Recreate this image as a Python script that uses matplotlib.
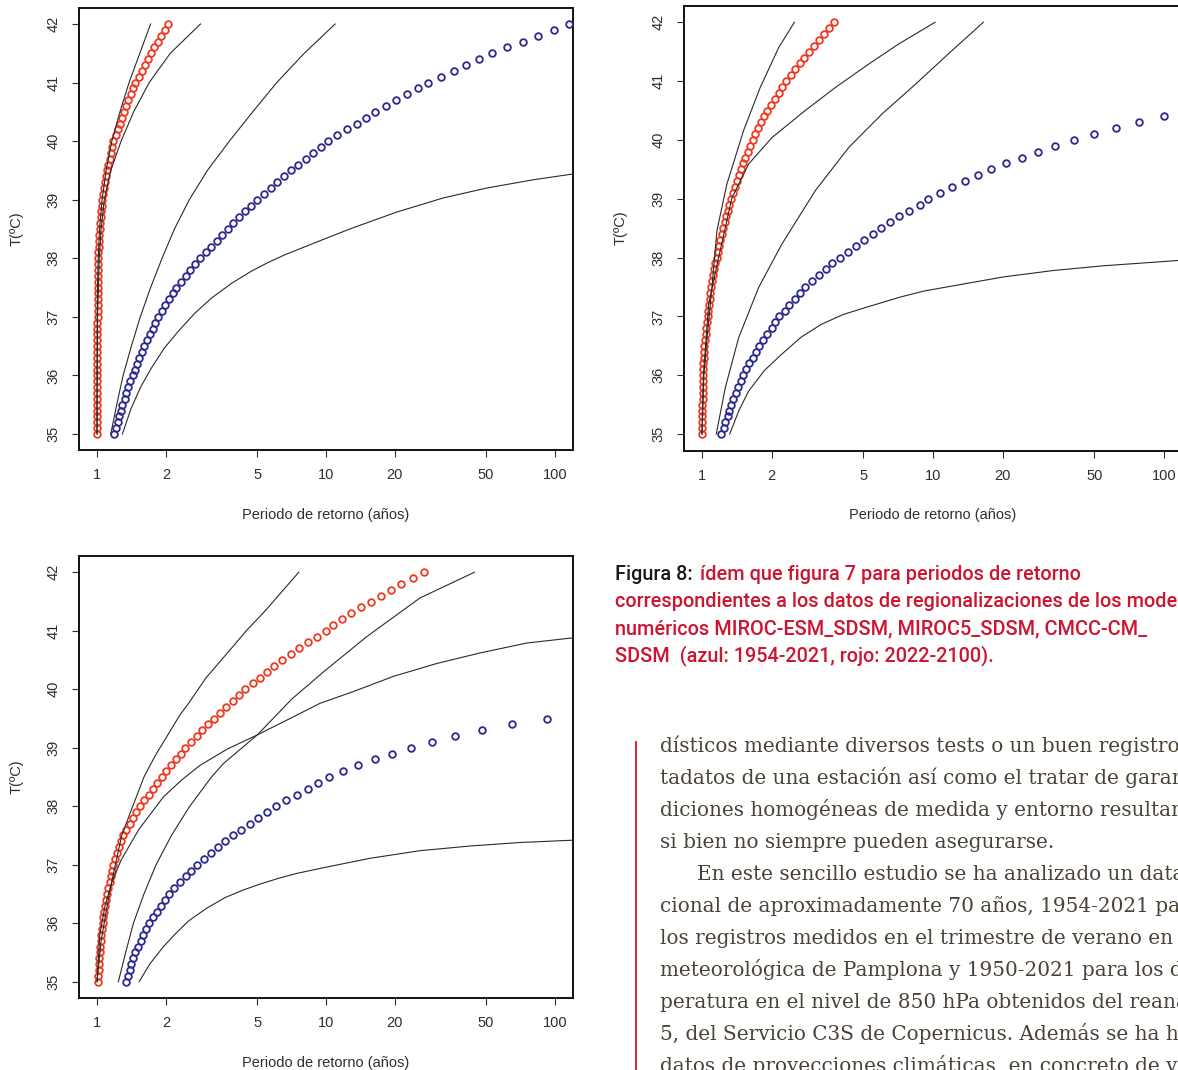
import matplotlib
matplotlib.use("Agg")
import matplotlib.pyplot as plt
from matplotlib.lines import Line2D
from matplotlib.ticker import FixedLocator, NullLocator

plt.rcParams["font.family"] = ["Liberation Sans", "DejaVu Sans"]

# temperature levels (ºC) shared by every point series
temps = [35.0, 35.1, 35.2, 35.3, 35.4, 35.5, 35.6, 35.7, 35.8, 35.9,
         36.0, 36.1, 36.2, 36.3, 36.4, 36.5, 36.6, 36.7, 36.8, 36.9,
         37.0, 37.1, 37.2, 37.3, 37.4, 37.5, 37.6, 37.7, 37.8, 37.9,
         38.0, 38.1, 38.2, 38.3, 38.4, 38.5, 38.6, 38.7, 38.8, 38.9,
         39.0, 39.1, 39.2, 39.3, 39.4, 39.5, 39.6, 39.7, 39.8, 39.9,
         40.0, 40.1, 40.2, 40.3, 40.4, 40.5, 40.6, 40.7, 40.8, 40.9,
         41.0, 41.1, 41.2, 41.3, 41.4, 41.5, 41.6, 41.7, 41.8, 41.9,
         42.0]

period_ticks = [1, 2, 5, 10, 20, 50, 100]
period_labels = ["1", "2", "5", "10", "20", "50", "100"]
temp_ticks = [35, 36, 37, 38, 39, 40, 41, 42]

# ---- panel 1 (top left): return periods in years ----
p1_blue = [1.19, 1.21, 1.23, 1.25, 1.27, 1.29, 1.32, 1.34, 1.37, 1.40,
           1.43, 1.46, 1.50, 1.53, 1.57, 1.60, 1.65, 1.70, 1.75, 1.80,
           1.85, 1.92, 1.99, 2.07, 2.14, 2.22, 2.33, 2.44, 2.56, 2.69,
           2.82, 2.98, 3.15, 3.33, 3.52, 3.72, 3.94, 4.19, 4.45, 4.72,
           5.01, 5.36, 5.73, 6.12, 6.55, 7.00, 7.55, 8.15, 8.79, 9.48,
           10.2, 11.2, 12.4, 13.6, 14.9, 16.4, 18.2, 20.3, 22.5, 25.1,
           27.9, 31.7, 36.1, 41.0, 46.7, 53.1, 61.9, 72.4, 84.5, 98.8,
           115]
p1_red = [1.000, 1.000, 1.000, 1.000, 1.000, 1.000, 1.000, 1.000, 1.000, 1.000,
          1.001, 1.001, 1.002, 1.002, 1.003, 1.003, 1.003, 1.004, 1.004, 1.004,
          1.005, 1.005, 1.006, 1.006, 1.006, 1.007, 1.008, 1.009, 1.010, 1.011,
          1.012, 1.014, 1.017, 1.020, 1.023, 1.026, 1.031, 1.036, 1.041, 1.047,
          1.052, 1.062, 1.073, 1.083, 1.093, 1.104, 1.119, 1.134, 1.149, 1.165,
          1.180, 1.205, 1.230, 1.256, 1.282, 1.309, 1.340, 1.372, 1.405, 1.438,
          1.472, 1.518, 1.566, 1.615, 1.666, 1.718, 1.780, 1.845, 1.910, 1.979,
          2.051]
p1_red_a_t = [35.0, 36.0, 37.0, 37.5, 38.0, 38.5, 39.0, 39.5, 40.0, 40.5, 41.0, 41.5, 42.0]
p1_red_a_x = [1.0, 1.0, 1.002, 1.005, 1.012, 1.026, 1.052, 1.096, 1.161, 1.259, 1.380, 1.538, 1.714]
p1_red_b_t = [35.0, 37.0, 38.0, 38.5, 39.0, 39.5, 40.0, 40.5, 41.0, 41.5, 42.0]
p1_red_b_x = [1.0, 1.005, 1.023, 1.042, 1.076, 1.148, 1.274, 1.445, 1.690, 2.089, 2.831]
p1_blue_a_t = [35.0, 35.5, 36.0, 36.5, 37.0, 37.5, 38.0, 38.5, 39.0, 39.5, 40.0, 40.5, 41.0, 41.5, 42.0]
p1_blue_a_x = [1.148, 1.219, 1.300, 1.413, 1.545, 1.714, 1.923, 2.178, 2.529, 3.034, 3.784, 4.786, 6.095, 8.035, 10.96]
p1_blue_b_t = [35.0, 35.44, 35.8, 36.13, 36.47, 36.75, 37.06, 37.32, 37.57, 37.78, 37.93, 38.06,
               38.30, 38.50, 38.79, 39.03, 39.2, 39.34, 39.44, 39.5]
p1_blue_b_x = [1.29, 1.41, 1.55, 1.73, 1.97, 2.26, 2.67, 3.16, 3.86, 4.72, 5.60, 6.61,
               9.42, 12.7, 20.4, 32.5, 50.4, 80.4, 120, 150]

# ---- panel 2 (top right) ----
p2_blue = [1.21, 1.24, 1.26, 1.29, 1.31, 1.33, 1.36, 1.40, 1.43, 1.47,
           1.50, 1.55, 1.60, 1.66, 1.71, 1.77, 1.84, 1.92, 2.00, 2.08,
           2.16, 2.28, 2.39, 2.52, 2.65, 2.79, 2.99, 3.20, 3.43, 3.67,
           3.94, 4.28, 4.65, 5.05, 5.48, 5.96, 6.53, 7.16, 7.91, 8.79,
           9.55, 10.7, 12.1, 13.7, 15.6, 17.9, 20.7, 24.2, 28.4, 33.7,
           40.7, 49.8, 61.8, 78.0, 100]
p2_red = [1.000, 1.001, 1.002, 1.003, 1.004, 1.005, 1.006, 1.006, 1.007, 1.008,
          1.009, 1.012, 1.015, 1.018, 1.020, 1.023, 1.030, 1.036, 1.043, 1.050,
          1.057, 1.065, 1.072, 1.080, 1.088, 1.096, 1.108, 1.120, 1.132, 1.144,
          1.156, 1.171, 1.186, 1.202, 1.217, 1.233, 1.253, 1.272, 1.292, 1.313,
          1.334, 1.360, 1.386, 1.413, 1.441, 1.469, 1.504, 1.541, 1.578, 1.617,
          1.656, 1.704, 1.753, 1.804, 1.856, 1.910, 1.985, 2.064, 2.145, 2.229,
          2.317, 2.423, 2.534, 2.650, 2.771, 2.897, 3.045, 3.201, 3.364, 3.536,
          3.715]
p2_red_a_t = [35.0, 36.0, 36.64, 37.49, 38.46, 39.25, 40.16, 40.89, 41.57, 42.0]
p2_red_a_x = [1.0, 1.019, 1.052, 1.104, 1.161, 1.282, 1.514, 1.786, 2.148, 2.512]
p2_red_b_t = [35.0, 36.0, 37.21, 38.0, 39.02, 39.59, 40.04, 40.5, 40.89, 41.29, 41.63, 42.0]
p2_red_b_x = [1.0, 1.014, 1.069, 1.180, 1.349, 1.592, 2.009, 2.799, 3.776, 5.272, 7.096, 10.21]
p2_blue_a_t = [35.0, 35.79, 36.64, 37.49, 38.23, 39.14, 39.87, 40.44, 40.95, 41.49, 42.0]
p2_blue_a_x = [1.153, 1.262, 1.442, 1.758, 2.218, 3.097, 4.315, 6.012, 8.414, 11.86, 16.52]
p2_blue_b_t = [35.0, 35.4, 35.73, 36.08, 36.36, 36.65, 36.87, 37.03, 37.15, 37.33, 37.43, 37.52,
               37.67, 37.78, 37.86, 37.92, 37.95, 37.97]
p2_blue_b_x = [1.318, 1.445, 1.592, 1.862, 2.218, 2.692, 3.304, 4.074, 5.093, 7.244, 9.120, 12.25,
               20.14, 33.19, 54.58, 89.95, 114.8, 141]

# ---- panel 3 (bottom left) ----
p3_blue = [1.343, 1.366, 1.389, 1.413, 1.438, 1.462, 1.505, 1.549, 1.595, 1.642,
           1.690, 1.759, 1.830, 1.904, 1.981, 2.061, 2.179, 2.304, 2.436, 2.575,
           2.723, 2.927, 3.146, 3.382, 3.636, 3.908, 4.263, 4.648, 5.068, 5.526,
           6.026, 6.711, 7.473, 8.325, 9.273, 10.33, 11.91, 13.84, 16.33, 19.41,
           23.44, 29.11, 36.73, 48.19, 64.86, 92.68]
p3_red = [1.009, 1.012, 1.016, 1.019, 1.022, 1.026, 1.032, 1.038, 1.044, 1.050,
          1.057, 1.067, 1.076, 1.086, 1.096, 1.107, 1.120, 1.134, 1.149, 1.163,
          1.178, 1.201, 1.224, 1.248, 1.273, 1.297, 1.342, 1.389, 1.437, 1.487,
          1.538, 1.608, 1.681, 1.756, 1.836, 1.919, 2.011, 2.108, 2.210, 2.316,
          2.427, 2.570, 2.723, 2.884, 3.055, 3.236, 3.449, 3.675, 3.916, 4.173,
          4.446, 4.782, 5.143, 5.532, 5.949, 6.397, 6.998, 7.656, 8.375, 9.162,
          10.02, 10.69, 11.70, 12.91, 14.16, 15.74, 17.38, 19.23, 21.33, 23.88,
          26.79]
p3_red_a_t = [35.0, 35.7, 36.6, 37.5, 37.94, 38.5, 38.87, 39.56, 39.76, 40.19, 40.76, 41.01, 41.33, 42.0]
p3_red_a_x = [1.0, 1.042, 1.143, 1.282, 1.413, 1.603, 1.799, 2.301, 2.512, 2.985, 3.981, 4.508, 5.395, 7.603]
p3_red_b_t = [35.0, 35.8, 36.3, 36.7, 37.08, 37.6, 38.16, 38.45, 38.7, 38.98, 39.22, 39.5, 39.76,
              39.96, 40.22, 40.44, 40.62, 40.79, 40.88, 40.95]
p3_red_b_x = [1.0, 1.028, 1.084, 1.161, 1.274, 1.521, 1.950, 2.344, 2.818, 3.715, 5.012, 6.966, 9.419,
              13.15, 19.68, 30.41, 46.99, 75.16, 120.2, 158.5]
p3_blue_a_t = [35.0, 35.5, 36.0, 36.5, 37.0, 37.5, 38.0, 38.5, 38.73, 39.22, 39.83, 40.3, 40.9, 41.56, 42.0]
p3_blue_a_x = [1.239, 1.334, 1.442, 1.603, 1.811, 2.113, 2.541, 3.162, 3.565, 5.012, 7.079, 9.772, 15.07, 25.70, 44.46]
p3_blue_b_t = [35.0, 35.3, 35.6, 35.83, 36.04, 36.26, 36.44, 36.57, 36.68, 36.77, 36.85, 36.95,
               37.11, 37.24, 37.32, 37.38, 37.42, 37.44]
p3_blue_b_x = [1.528, 1.698, 1.950, 2.213, 2.512, 3.020, 3.631, 4.365, 5.248, 6.237, 7.413, 9.772,
               15.56, 25.70, 42.56, 70.31, 120.2, 158.5]

caption_head = "Figura 8:"
caption_lines = [
    "ídem que figura 7 para periodos de retorno",
    "correspondientes a los datos de regionalizaciones de los modelos",
    "numéricos MIROC-ESM_SDSM, MIROC5_SDSM, CMCC-CM_",
    "SDSM  (azul: 1954-2021, rojo: 2022-2100).",
]
body_lines = [
    "dísticos mediante diversos tests o un buen registro",
    "tadatos de una estación así como el tratar de garantizar",
    "diciones homogéneas de medida y entorno resultan",
    "si bien no siempre pueden asegurarse.",
    "En este sencillo estudio se ha analizado un dataset",
    "cional de aproximadamente 70 años, 1954-2021 para",
    "los registros medidos en el trimestre de verano en",
    "meteorológica de Pamplona y 1950-2021 para los datos",
    "peratura en el nivel de 850 hPa obtenidos del reanálisis",
    "5, del Servicio C3S de Copernicus. Además se ha hecho",
    "datos de proyecciones climáticas, en concreto de varios",
]

W, H = 1178, 1070
BLUE = "#2c2a8e"
RED = "#ee3a22"
CAP_RED = "#cc1531"
TXT = "#2e2e2e"

fig = plt.figure(figsize=(W / 100, H / 100), dpi=100)
fig.patch.set_facecolor("white")


def px_axes(left, top, right, bottom):
    return fig.add_axes([left / W, 1 - bottom / H, (right - left) / W, (bottom - top) / H])


def draw_panel(ax, blue_x, red_x, bands):
    ax.plot(blue_x, temps[:len(blue_x)], ls="none", marker="o", ms=4.8,
            mfc="none", mec=BLUE, mew=1.3, zorder=3)
    ax.plot(red_x, temps[:len(red_x)], ls="none", marker="o", ms=4.8,
            mfc="none", mec=RED, mew=1.3, zorder=3)
    for bx, bt in bands:
        ax.plot(bx, bt, color="#2a2a2a", lw=0.8, zorder=4)
    ax.set_xscale("log")
    ax.set_xlim(10 ** -0.08, 10 ** 2.08)
    ax.set_ylim(34.72, 42.28)
    ax.xaxis.set_major_locator(FixedLocator(period_ticks))
    ax.xaxis.set_minor_locator(NullLocator())
    ax.set_xticklabels(period_labels)
    ax.set_yticks(temp_ticks)
    ax.set_yticklabels([str(t) for t in temp_ticks])
    ax.tick_params(direction="out", length=5, width=0.8, colors=TXT,
                   labelsize=10.5, pad=8)
    for lab in ax.get_yticklabels():
        lab.set_rotation(90)
        lab.set_va("center")
    for sp in ax.spines.values():
        sp.set_linewidth(1.4)
        sp.set_color("#111111")
    ax.text(0.5, -0.146, "Periodo de retorno (años)", transform=ax.transAxes,
            ha="center", va="center", fontsize=10.5, color=TXT)
    ax.text(-0.125, 0.5, "T(ºC)", transform=ax.transAxes, rotation=90,
            ha="center", va="center", fontsize=10.5, color=TXT)


ax1 = px_axes(78.7, 7.6, 573.3, 450.4)
draw_panel(ax1, p1_blue, p1_red, [(p1_red_a_x, p1_red_a_t), (p1_red_b_x, p1_red_b_t),
                                  (p1_blue_a_x, p1_blue_a_t), (p1_blue_b_x, p1_blue_b_t)])

ax2 = px_axes(683.5, 5.8, 1182.5, 450.5)
draw_panel(ax2, p2_blue, p2_red, [(p2_red_a_x, p2_red_a_t), (p2_red_b_x, p2_red_b_t),
                                  (p2_blue_a_x, p2_blue_a_t), (p2_blue_b_x, p2_blue_b_t)])

ax3 = px_axes(78.7, 555.9, 573.3, 998.1)
draw_panel(ax3, p3_blue, p3_red, [(p3_red_a_x, p3_red_a_t), (p3_red_b_x, p3_red_b_t),
                                  (p3_blue_a_x, p3_blue_a_t), (p3_blue_b_x, p3_blue_b_t)])

# caption
cap_font = dict(family=["Roboto", "DejaVu Sans"], fontsize=14.3, fontweight="medium")
head = fig.text(615 / W, 1 - 580 / H, caption_head, color="#1a1a1a", va="baseline", **cap_font)
fig.canvas.draw()
hb = head.get_window_extent()
fig.text((hb.x1 + 7) / W, 1 - 580 / H, caption_lines[0], color=CAP_RED, va="baseline", **cap_font)
for i, line in enumerate(caption_lines[1:]):
    fig.text(615 / W, 1 - (607 + 27 * i) / H, line, color=CAP_RED, va="baseline", **cap_font)

# body text, clipped by the page edge like the reference
body_font = dict(family=["DejaVu Serif"], fontsize=14.4, color="#4a4238")
for i, line in enumerate(body_lines):
    x0 = 697 if i == 4 else 660
    fig.text(x0 / W, 1 - (752 + 32 * i) / H, line, va="baseline", **body_font)

fig.add_artist(Line2D([636 / W, 636 / W], [1 - 742 / H, 0], color=CAP_RED, lw=1.3))

fig.savefig("out.png", dpi=100)
